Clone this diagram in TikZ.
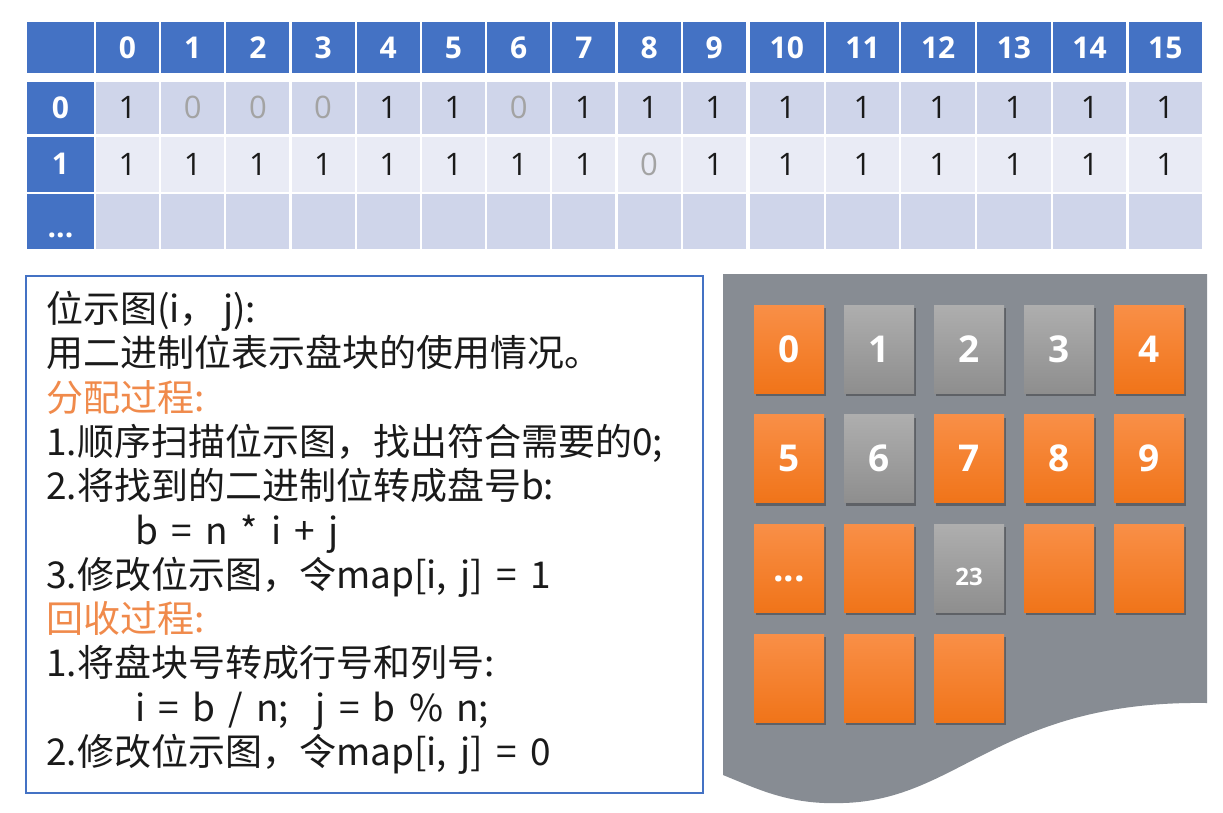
\documentclass[tikz,border=0pt]{standalone}
\usepackage{fontspec}
\setmainfont{Open Sans}
\newfontfamily\cjkfont[WordSpace=1.6]{Noto Sans CJK SC}
\usetikzlibrary{positioning,shadows}
\definecolor{Head}{HTML}{4472C4}
\definecolor{RowDark}{HTML}{CFD5EA}
\definecolor{RowLight}{HTML}{E9EBF5}
\definecolor{Ink}{HTML}{1A1A1A}
\definecolor{Muted}{HTML}{A3A3A3}
\definecolor{Accent}{HTML}{F08A4B}
\definecolor{Panel}{HTML}{878C93}
\definecolor{UsedTop}{HTML}{F98F47}
\definecolor{UsedBot}{HTML}{F07419}
\definecolor{FreeTop}{HTML}{AEAEAE}
\definecolor{FreeBot}{HTML}{8E8E8E}
\newcommand\moredots{...}
\tikzset{
  cell/.style={inner sep=0pt,text depth=0pt},
  headcell/.style={cell,fill=Head,text=white,text height=21.4pt,font=\bfseries\fontsize{30}{30}\selectfont},
  valcell/.style={cell,text height=22pt,font=\fontsize{31}{31}\selectfont},
  bit0/.style={text=Muted},
  bit1/.style={text=Ink},
  descbox/.style={draw=Head,line width=1.3pt,fill=white,minimum width=677pt,minimum height=517pt,inner sep=0pt},
  desc/.style={inner sep=0pt,align=left,text=Ink,font=\cjkfont\fontsize{37}{44.3}\selectfont},
  block/.style={minimum width=70pt,minimum height=88pt,inner sep=0pt,text=white,
    font=\bfseries\fontsize{37}{37}\selectfont,text height=26.4pt,text depth=0pt,
    drop shadow={shadow xshift=1.5pt,shadow yshift=-3pt,fill=black,opacity=.3}},
  blockused/.style={block,top color=UsedTop,bottom color=UsedBot},
  blockfree/.style={block,top color=FreeTop,bottom color=FreeBot},
  blocksmall/.style={blockfree,font=\bfseries\fontsize{24}{24}\selectfont,text height=35pt}
}
\begin{document}
\begin{tikzpicture}[x=1pt,y=-1pt]
  \fill[white] (0,0) rectangle (1223,812);
  \useasboundingbox (0,0) rectangle (1223,812);

  % bitmap table
  \node[headcell,minimum width=67pt,minimum height=51.5pt] (corner) at (60.5,47.5) {};
  \node[headcell,minimum width=67pt,minimum height=52.3pt] (lab0) at (60.5,107.9) {0};
  \node[headcell,minimum width=67pt,minimum height=55pt] (lab1) at (60.5,164.2) {1};
  \node[headcell,minimum width=67pt,minimum height=55pt,text height=31pt] (labC) at (60.5,221.8) {\moredots};
  \foreach \k in {0,...,15}{
    \pgfmathsetmacro\cx{\k<10 ? 127.5+65.2*\k : 786.8+75.7*(\k-10)}
    \pgfmathsetmacro\cw{\k<10 ? 63 : 73.5}
    \node[headcell,minimum width=\cw pt,minimum height=51.5pt] (top\k) at (\cx,47.5) {\k};
    \node[valcell,fill=RowDark,minimum width=\cw pt,minimum height=55pt] (rowC\k) at (\cx,221.8) {};
  }
  \foreach \v [count=\k from 0] in {1,0,0,0,1,1,0,1,1,1,1,1,1,1,1,1}{
    \pgfmathsetmacro\cx{\k<10 ? 127.5+65.2*\k : 786.8+75.7*(\k-10)}
    \pgfmathsetmacro\cw{\k<10 ? 63 : 73.5}
    \node[valcell,bit\v,fill=RowDark,minimum width=\cw pt,minimum height=52.3pt] (rowA\k) at (\cx,107.9) {\v};
  }
  \foreach \v [count=\k from 0] in {1,1,1,1,1,1,1,1,0,1,1,1,1,1,1,1}{
    \pgfmathsetmacro\cx{\k<10 ? 127.5+65.2*\k : 786.8+75.7*(\k-10)}
    \pgfmathsetmacro\cw{\k<10 ? 63 : 73.5}
    \node[valcell,bit\v,fill=RowLight,minimum width=\cw pt,minimum height=55pt] (rowB\k) at (\cx,164.2) {\v};
  }

  % description
  \node[descbox] (box) at (364.5,534.5) {};
  \node[desc,anchor=north west] (desc) at (46,291) {%
    位示图(i，\,j):\\
    用二进制位表示盘块的使用情况。\\
    \textcolor{Accent}{分配过程:}\\
    1.顺序扫描位示图，找出符合需要的0;\\
    2.将找到的二进制位转成盘号b:\\
    \hspace*{89pt}b = n * i + j\\
    3.修改位示图，令map[i, j] = 1\\
    \textcolor{Accent}{回收过程:}\\
    1.将盘块号转成行号和列号:\\
    \hspace*{89pt}i = b / n;\ \ j = b \% n;\\
    2.修改位示图，令map[i, j] = 0};

  % disk blocks
  \fill[Panel] (723,274) -- (1207,274) -- (1207,703)
    .. controls (1000,700) and (960,800) .. (843,803)
    .. controls (790,805) and (760,790) .. (723,775) -- cycle;
  \foreach \lab/\kind [count=\n from 0] in {0/used,1/free,2/free,3/free,4/used,
      5/used,6/free,7/used,8/used,9/used,\moredots/used,/used,23/small,/used,/used,
      /used,/used,/used}{
    \pgfmathtruncatemacro\r{floor(\n/5)}
    \pgfmathtruncatemacro\c{mod(\n,5)}
    \node[block\kind] (blk\n) at (789+90*\c,349+109.7*\r) {\lab};
  }
\end{tikzpicture}
\end{document}
